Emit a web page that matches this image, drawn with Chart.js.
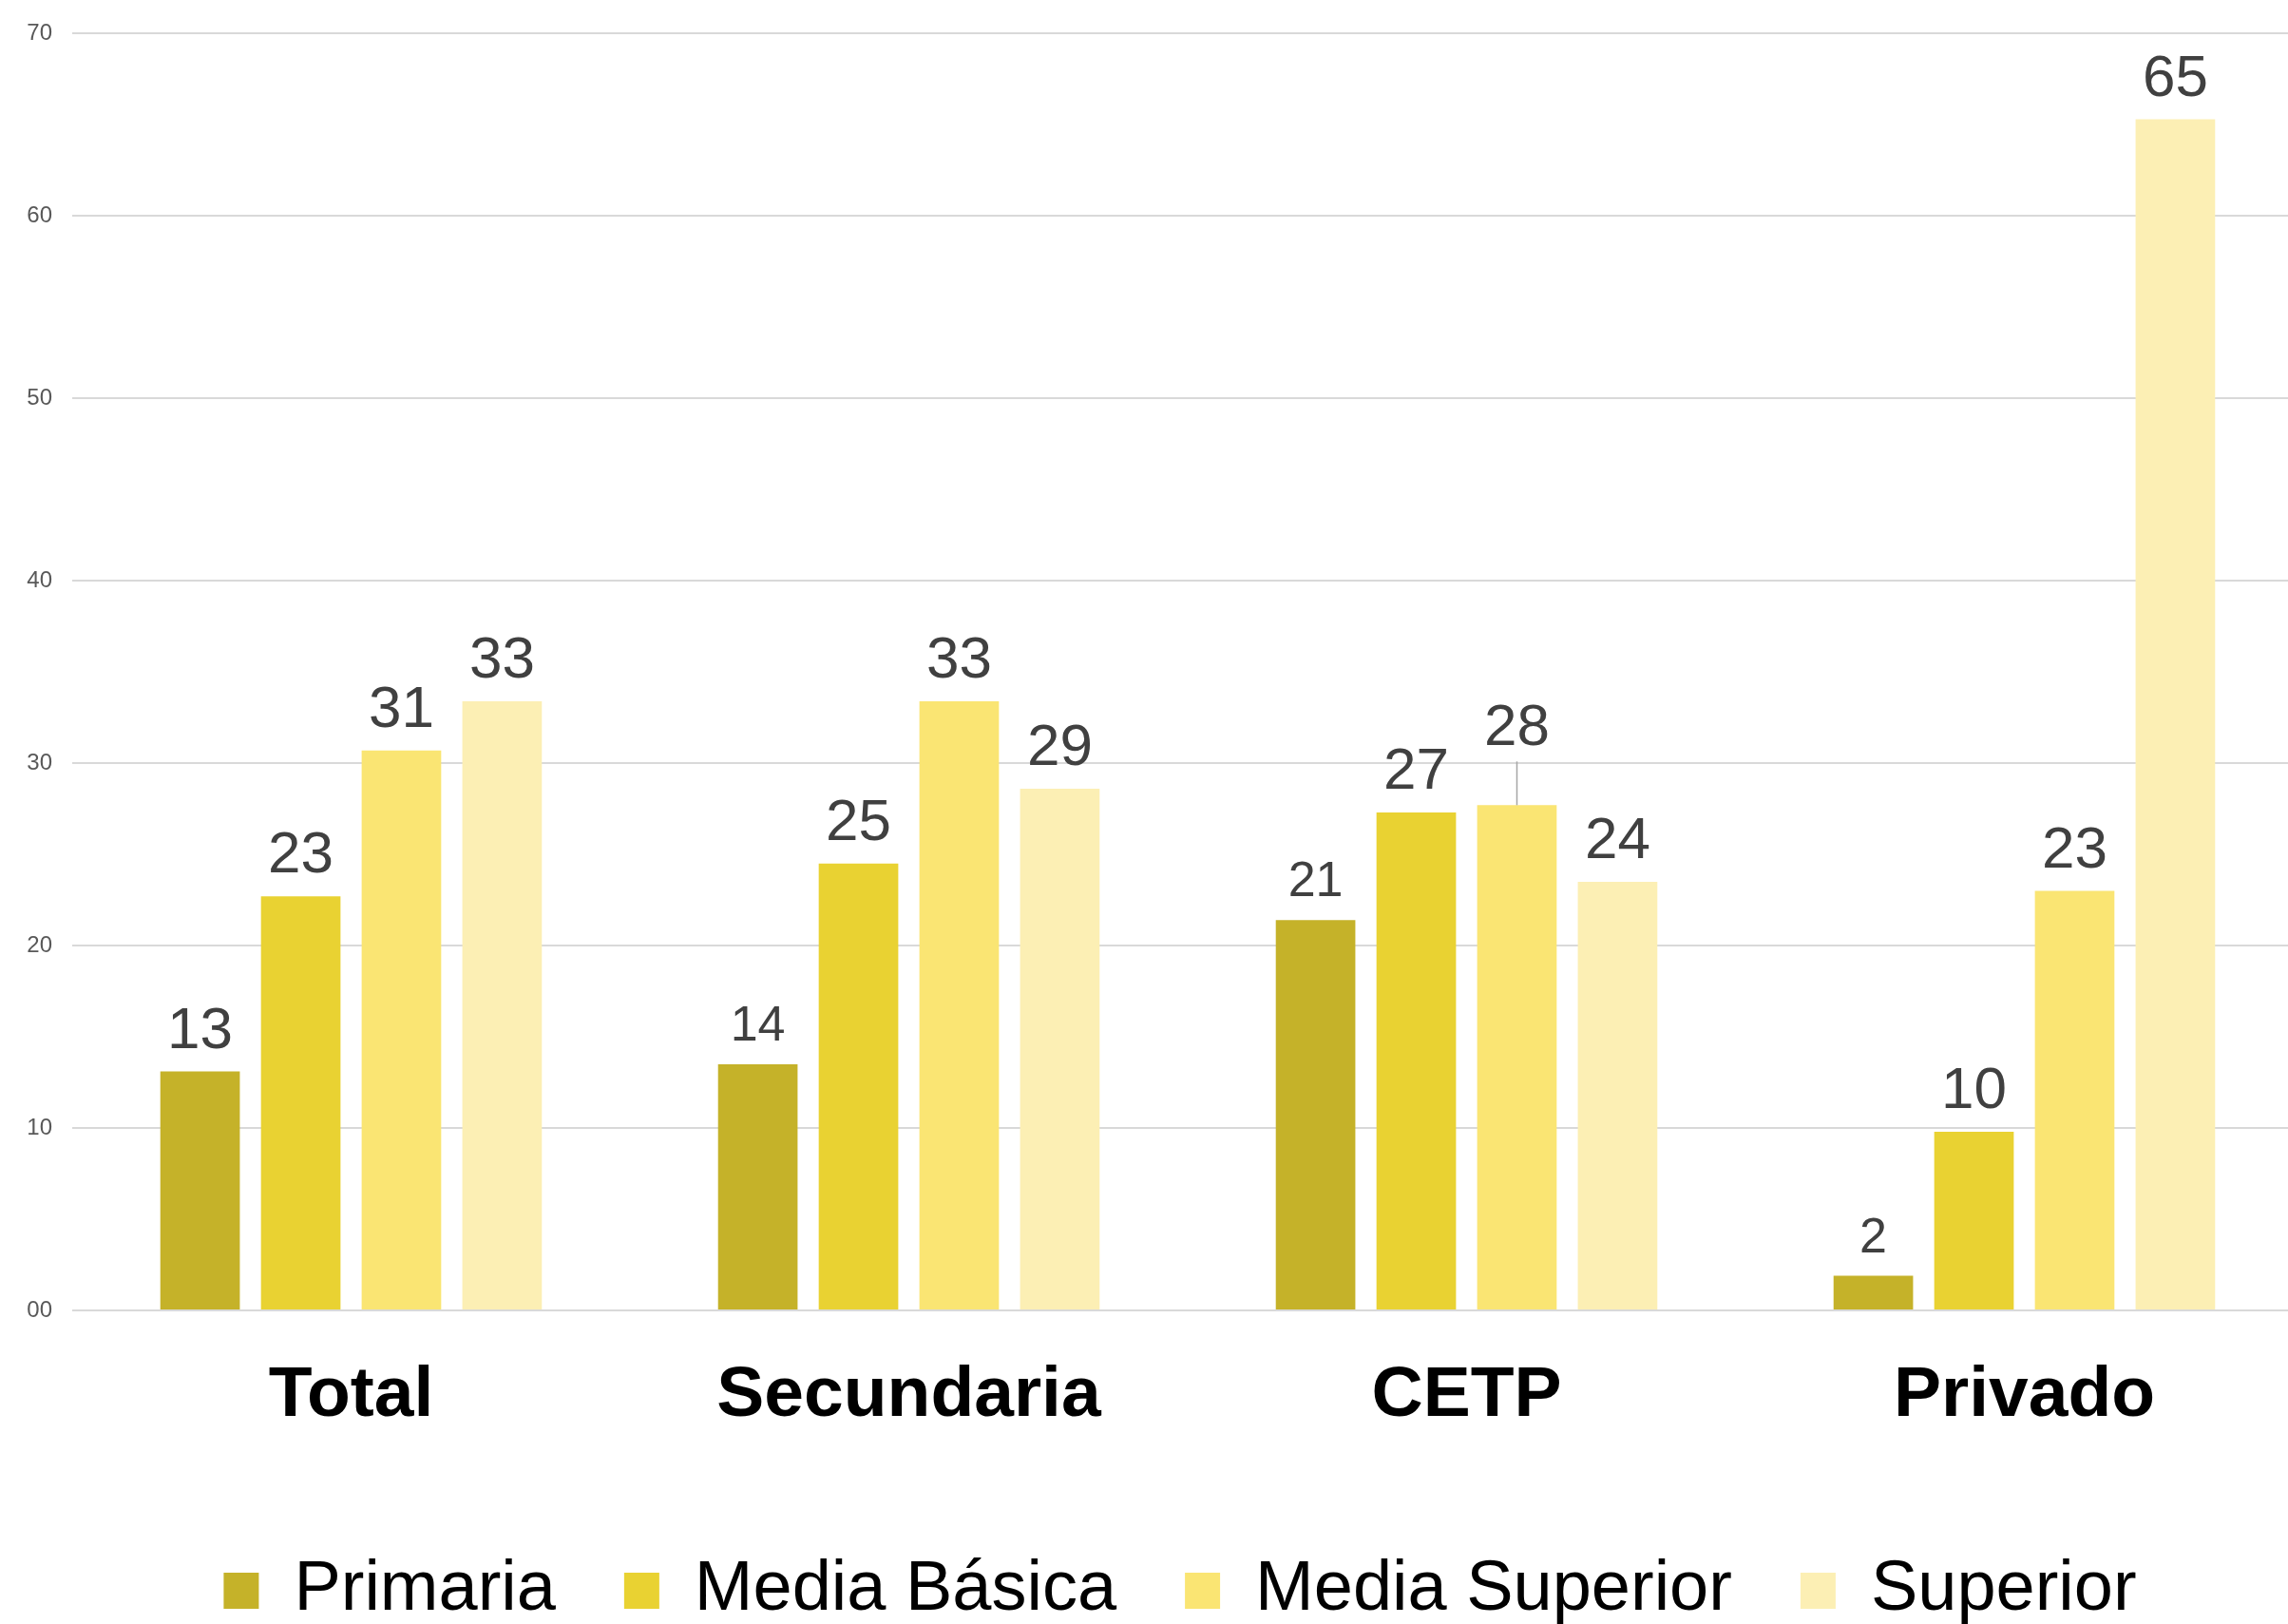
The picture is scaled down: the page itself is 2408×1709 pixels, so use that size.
<!DOCTYPE html>
<html>
<head>
<meta charset="utf-8">
<script src="https://cdn.jsdelivr.net/npm/chart.js@4/dist/chart.umd.min.js"></script>
<style>
    html, body { margin: 0; padding: 0; background: #fff; }
</style>
</head>
<body>
<canvas id="chart" width="2408" height="1709"></canvas>
<script>
// Docentes por nivel de formación, según subsistema

const categories = ['Total', 'Secundaria', 'CETP', 'Privado'];
const seriesNames = ['Primaria', 'Media Básica', 'Media Superior', 'Superior'];

const primaria = [13.1, 13.5, 21.4, 1.9];
const mediaBasica = [22.7, 24.5, 27.3, 9.8];
const mediaSuperior = [30.7, 33.4, 27.7, 23.0];
const superior = [33.4, 28.6, 23.5, 65.3];

const yMin = 0;
const yMax = 70;
const yStep = 10;

const colors = ['#c5b229', '#e9d232', '#fae573', '#fcefb4'];
const FONT = "'Liberation Sans', Arial, sans-serif";

// Value labels above each bar
const valueLabels = {
    id: 'valueLabels',
    afterDatasetsDraw(chart, args, opts) {
        const ctx = chart.ctx;
        ctx.save();
        ctx.textAlign = 'center';
        ctx.textBaseline = 'alphabetic';
        chart.data.datasets.forEach((ds, di) => {
            const meta = chart.getDatasetMeta(di);
            meta.data.forEach((bar, i) => {
                const key = di + ':' + i;
                const size = opts.small.includes(key) ? 52 : 62;
                const lift = opts.lifted[key] || 0;
                const baseY = bar.y - 25 - lift;
                if (lift) {
                    // leader line
                    ctx.strokeStyle = '#a6a6a6';
                    ctx.lineWidth = 1.5;
                    ctx.beginPath();
                    ctx.moveTo(bar.x, bar.y);
                    ctx.lineTo(bar.x, baseY + 17);
                    ctx.stroke();
                }
                ctx.fillStyle = '#404040';
                ctx.font = size + 'px ' + FONT;
                ctx.fillText(Math.round(ds.data[i]), bar.x, baseY);
            });
        });
        ctx.restore();
    }
};

// The category band runs a bit past the right edge of the canvas
const widenX = {
    id: 'widenX',
    afterLayout(chart, args, opts) {
        const s = chart.scales.x;
        s.right += opts.extra;
        s.width += opts.extra;
        s.configure();
    }
};

const seriesData = [primaria, mediaBasica, mediaSuperior, superior];

const chart = new Chart(document.getElementById('chart').getContext('2d'), {
    type: 'bar',
    data: {
        labels: categories,
        datasets: seriesNames.map((name, k) => ({
            label: name,
            data: seriesData[k],
            backgroundColor: colors[k],
            borderWidth: 0,
            categoryPercentage: 0.722,
            barPercentage: 0.79
        }))
    },
    options: {
        responsive: false,
        animation: false,
        devicePixelRatio: 1,
        layout: {
            padding: { top: 22, right: 0, bottom: -12, left: 0 }
        },
        scales: {
            x: {
                grid: { display: false, drawTicks: false },
                border: { display: false },
                ticks: {
                    padding: 45,
                    color: '#000',
                    font: { family: FONT, size: 75, weight: 'bold' }
                },
                afterFit(scale) {
                    scale.height = 186;
                }
            },
            y: {
                min: yMin,
                max: yMax,
                grid: { color: '#d9d9d9', lineWidth: 2, drawTicks: false },
                border: { display: false },
                ticks: {
                    stepSize: yStep,
                    padding: 21,
                    color: '#595959',
                    font: { family: FONT, size: 24 },
                    callback: (v) => v === 0 ? '00' : v
                },
                afterFit(scale) {
                    scale.width = 76;
                }
            }
        },
        plugins: {
            legend: {
                position: 'bottom',
                fullSize: false,
                labels: {
                    boxWidth: 37,
                    boxHeight: 38,
                    padding: 72,
                    color: '#000',
                    font: { family: FONT, size: 74 }
                }
            },
            tooltip: { enabled: false },
            valueLabels: {
                small: ['0:1', '0:2', '0:3'],
                lifted: { '2:2': 38 }
            },
            widenX: { extra: 16 }
        }
    },
    plugins: [valueLabels, widenX]
});
</script>
</body>
</html>
